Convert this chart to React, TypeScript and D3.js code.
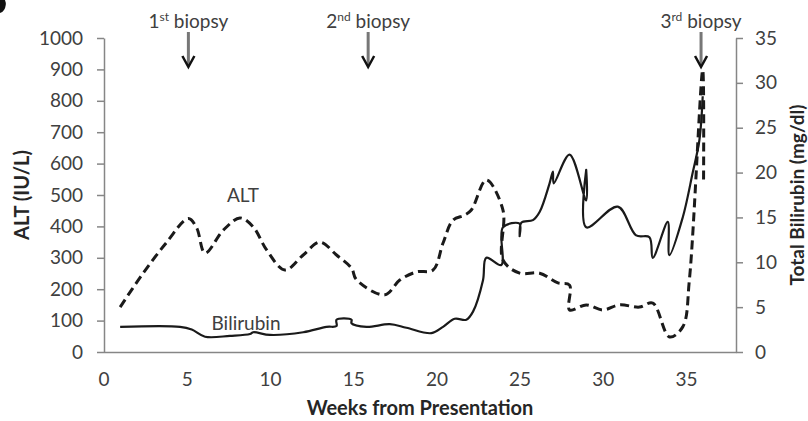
import React, { useEffect, useRef } from 'react';
import * as d3 from 'd3';

// ALT (IU/L), dashed, left axis
const altWeeks = [1, 2.3, 3.7, 5.1, 5.6, 6.1, 7.2, 8.2, 9.0, 9.8, 10.9, 12.0, 13.0, 14.0, 14.9, 15.2, 16.9, 17.8, 18.8, 19.8, 20.4, 21.0, 21.7, 22.1, 23.0, 24.0, 24.0, 25.0, 26.2, 27.3, 28.0, 28.0, 29.0, 30.0, 31.0, 32.2, 33.0, 34.0, 34.8, 35.2, 36.0, 36.05];
const altValues = [143, 245, 343, 425, 395, 315, 388, 427, 398, 325, 261, 309, 350, 309, 267, 230, 182, 229, 255, 261, 347, 420, 436, 452, 548, 452, 293, 251, 251, 220, 213, 134, 150, 134, 150, 143, 156, 48, 80, 230, 898, 538];

// Total bilirubin (mg/dl), solid, right axis
const biliWeeks = [1, 4.6, 5.3, 6.1, 7.6, 8.8, 9.0, 10.0, 12.0, 13.4, 14.0, 14.0, 14.9, 14.9, 15.8, 17.2, 18.2, 19.7, 20.4, 21.1, 21.8, 22.2, 22.8, 23.0, 23.9, 24.0, 25.0, 25.0, 25.1, 25.8, 26.2, 26.8, 27.0, 27.05, 28.0, 29.0, 29.0, 29.0, 30.9, 32.0, 32.8, 33.0, 33.9, 34.0, 34.8, 35.4, 35.8, 36.0];
const biliValues = [2.8, 2.8, 2.5, 1.7, 1.8, 2.0, 2.2, 1.9, 2.2, 2.8, 2.9, 3.6, 3.6, 3.2, 2.8, 3.1, 2.7, 2.1, 2.8, 3.7, 3.6, 4.5, 8.0, 10.5, 9.7, 13.9, 14.3, 12.9, 14.4, 14.7, 15.6, 18.8, 20.1, 18.8, 22.0, 16.9, 20.3, 13.9, 16.2, 13.0, 12.8, 10.5, 14.5, 10.8, 15.0, 20.0, 23.6, 28.5];

const leftTicks = [0, 100, 200, 300, 400, 500, 600, 700, 800, 900, 1000];
const rightTicks = [0, 5, 10, 15, 20, 25, 30, 35];
const weekTicks = [0, 5, 10, 15, 20, 25, 30, 35];

const biopsies = [
  { week: 5.1, num: '1', sup: 'st' },
  { week: 15.9, num: '2', sup: 'nd' },
  { week: 35.9, num: '3', sup: 'rd' },
];

const W = 808, H = 421;
const FONT = 'Lato, "Open Sans", sans-serif';
const FS = 19;

export default function App() {
  const ref = useRef<SVGSVGElement>(null);

  useEffect(() => {
    const svg = d3.select(ref.current);
    svg.selectAll('*').remove();

    const x = d3.scaleLinear().domain([0, 38]).range([103.5, 736]);
    const yL = d3.scaleLinear().domain([0, 1000]).range([352, 38]);
    const yR = d3.scaleLinear().domain([0, 35]).range([352, 38]);

    const axisColor = '#868686';
    const textColor = '#404040';

    // cropped edge of the panel letter in the corner
    svg.append('path')
      .attr('d', 'M0,0 L5,0 Q7,5 4,10 Q2,13 0,13 Z')
      .attr('fill', '#111');

    const styleAxis = (g: any) => {
      g.select('.domain').attr('stroke', axisColor).attr('stroke-width', 1.5);
      g.selectAll('.tick line').attr('stroke', axisColor).attr('stroke-width', 1.5);
      g.selectAll('.tick text').attr('fill', textColor).attr('font-size', FS).attr('font-family', FONT);
    };

    svg.append('g')
      .attr('transform', 'translate(104,0)')
      .call(d3.axisLeft(yL).tickValues(leftTicks).tickFormat(d3.format('d')).tickSize(7).tickSizeOuter(0).tickPadding(14))
      .call(styleAxis);

    svg.append('g')
      .attr('transform', 'translate(736,0)')
      .call(d3.axisRight(yR).tickValues(rightTicks).tickFormat(d3.format('d')).tickSize(7).tickSizeOuter(0).tickPadding(12))
      .call(styleAxis);

    svg.append('g')
      .attr('transform', 'translate(0,352)')
      .call(d3.axisBottom(x).tickValues(weekTicks).tickSize(0).tickSizeOuter(0).tickPadding(21))
      .call(styleAxis);

    // axis titles
    svg.append('text')
      .attr('x', 420).attr('y', 415)
      .attr('text-anchor', 'middle')
      .attr('font-family', FONT).attr('font-size', 20).attr('font-weight', 'bold').attr('fill', '#262626')
      .text('Weeks from Presentation');

    svg.append('text')
      .attr('transform', 'translate(29,195) rotate(-90)')
      .attr('text-anchor', 'middle')
      .attr('font-family', FONT).attr('font-size', 20).attr('font-weight', 'bold').attr('fill', '#262626')
      .text('ALT (IU/L)');

    svg.append('text')
      .attr('transform', 'translate(804,195) rotate(-90)')
      .attr('text-anchor', 'middle')
      .attr('font-family', FONT).attr('font-size', 19).attr('font-weight', 'bold').attr('fill', '#262626')
      .text('Total Bilirubin (mg/dl)');

    // series
    const curve = d3.curveCatmullRom.alpha(0.5);
    const altLine = d3.line<number>().x((d, i) => x(altWeeks[i])).y(d => yL(d)).curve(curve);
    const biliLine = d3.line<number>().x((d, i) => x(biliWeeks[i])).y(d => yR(d)).curve(curve);

    svg.append('path')
      .attr('d', biliLine(biliValues))
      .attr('fill', 'none').attr('stroke', '#1a1a1a').attr('stroke-width', 2.2)
      .attr('stroke-linejoin', 'round');

    svg.append('path')
      .attr('d', altLine(altValues))
      .attr('fill', 'none').attr('stroke', '#1a1a1a').attr('stroke-width', 3)
      .attr('stroke-dasharray', '9,5');

    // series labels
    svg.append('text')
      .attr('x', 243).attr('y', 202)
      .attr('text-anchor', 'middle')
      .attr('font-family', FONT).attr('font-size', FS).attr('fill', textColor)
      .text('ALT');

    svg.append('text')
      .attr('x', 246).attr('y', 330)
      .attr('text-anchor', 'middle')
      .attr('font-family', FONT).attr('font-size', FS).attr('fill', textColor)
      .text('Bilirubin');

    // biopsy annotations
    const bio = svg.selectAll('g.biopsy')
      .data(biopsies)
      .join('g')
      .attr('class', 'biopsy')
      .attr('transform', d => `translate(${x(d.week)},0)`);

    const label = bio.append('text')
      .attr('y', 28)
      .attr('text-anchor', 'middle')
      .attr('font-family', FONT).attr('font-size', FS).attr('fill', textColor);
    label.append('tspan').text(d => d.num);
    label.append('tspan').attr('font-size', 12).attr('dy', -7).text(d => d.sup);
    label.append('tspan').attr('dy', 7).text(' biopsy');

    bio.append('line')
      .attr('x1', 0).attr('x2', 0).attr('y1', 32).attr('y2', 65)
      .attr('stroke', '#777').attr('stroke-width', 3);

    bio.append('path')
      .attr('d', 'M-6,56 L0,67 L6,56')
      .attr('fill', 'none').attr('stroke', '#111').attr('stroke-width', 2.5);
  }, []);

  return (
    <svg ref={ref} width={W} height={H}
      style={{ position: 'absolute', left: 0, top: 0, background: '#fff' }} />
  );
}
